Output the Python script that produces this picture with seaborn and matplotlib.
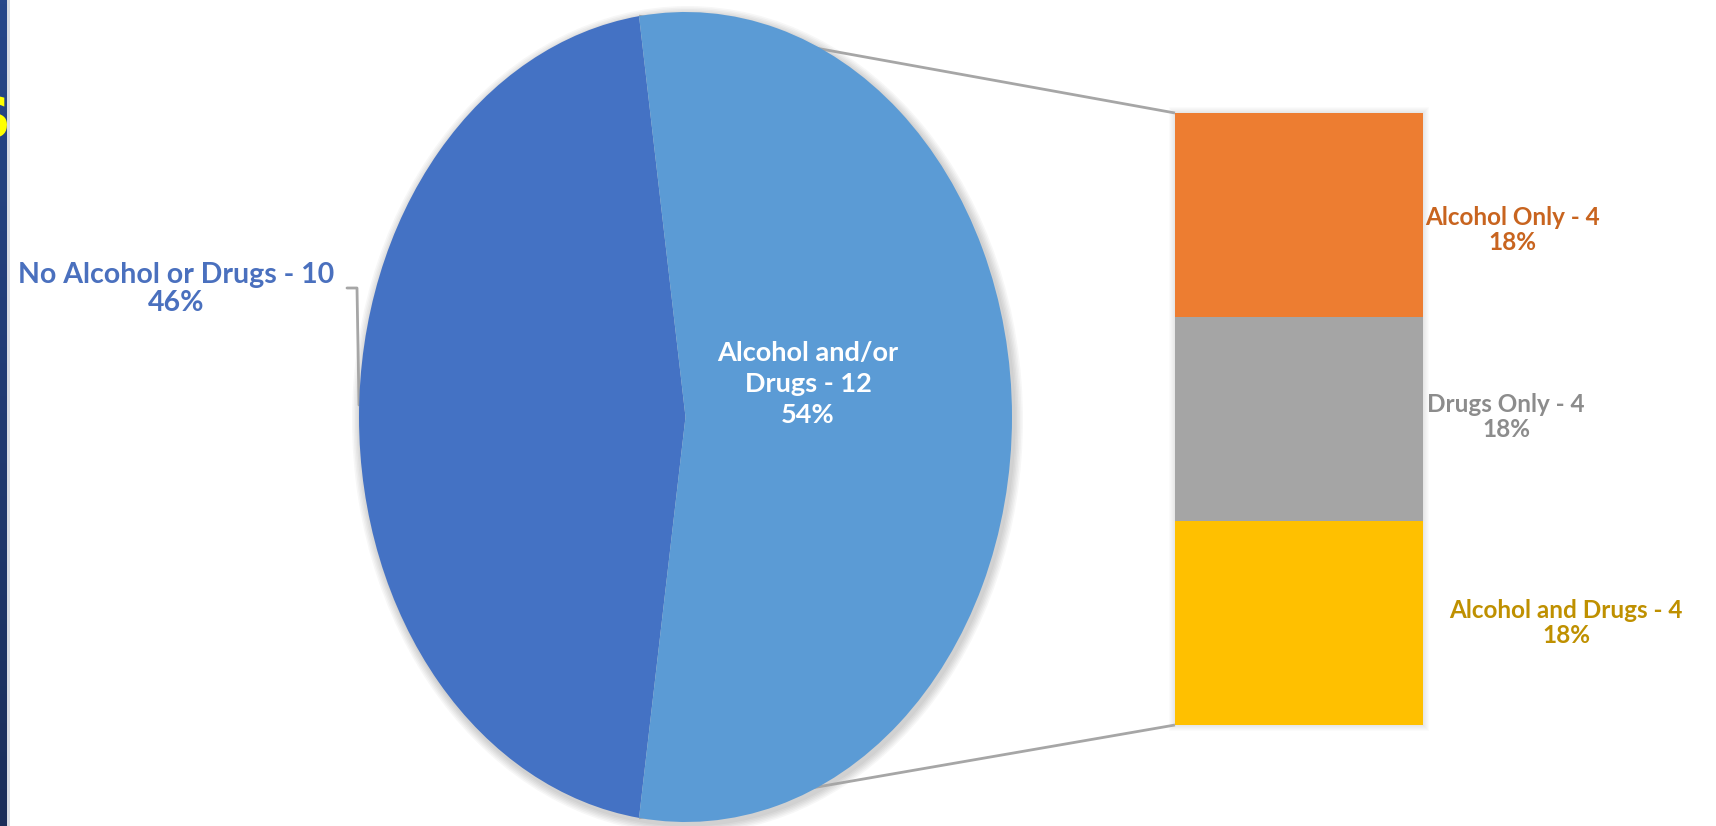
import numpy as np
import matplotlib
matplotlib.use("Agg")
import matplotlib.pyplot as plt
import seaborn as sns
from matplotlib.patches import Rectangle, Ellipse

# main pie: the "no" slice and the slice that is split into the bar
main_labels = ["No Alcohol or Drugs", "Alcohol and/or\nDrugs"]
main_counts = [10, 12]
main_pcts = ["46%", "54%"]

# secondary stacked bar, listed top to bottom
sub_labels = ["Alcohol Only", "Drugs Only", "Alcohol and Drugs"]
sub_counts = [4, 4, 4]
sub_pcts = ["18%", "18%", "18%"]

pie_colors = ["#4472C4", "#5B9BD5"]
bar_colors = ["#ED7D31", "#A5A5A5", "#FFC000"]
sub_text_colors = ["#C8641F", "#8C8C8C", "#BF9000"]

sns.set_theme(style="white")
plt.rcParams["font.family"] = ["Lato", "DejaVu Sans"]

W, H = 1716, 826
fig = plt.figure(figsize=(W / 100, H / 100), dpi=100)
fig.patch.set_facecolor("white")

# background canvas in pixel coordinates (strip + connector lines)
bg = fig.add_axes([0, 0, 1, 1])
bg.axis("off")

grad = np.linspace(0, 1, 200).reshape(-1, 1)
bg.imshow(grad, extent=(0, 7, H, 0), aspect="auto",
          cmap=matplotlib.colors.LinearSegmentedColormap.from_list("nv", ["#27478A", "#1B2E5A"]))
bg.add_patch(Rectangle((7, 0), 2.5, H, color="#D9DCE3", lw=0))
strip = Rectangle((0, 0), 7, H, transform=bg.transData, fill=False, lw=0)
bg.add_patch(strip)
s_txt = bg.text(11, 121, "S", color="#FFFF00", fontsize=40, fontweight="bold",
                ha="right", va="center", family="DejaVu Sans")
s_txt.set_clip_path(strip)
bg.set_xlim(0, W)
bg.set_ylim(H, 0)

# pie geometry (pixels)
px0, px1, py0, py1 = 359, 1012, 12, 822
bx0, bx1, by0, by1 = 1175, 1423, 113, 725
cx, cy = (px0 + px1) / 2, (py0 + py1) / 2
rx, ry = (px1 - px0) / 2, (py1 - py0) / 2

start = 180 - 180 * main_counts[0] / sum(main_counts)
edge = np.deg2rad(start)
ex, ey_top, ey_bot = cx + rx * np.cos(edge), cy - ry * np.sin(edge), cy + ry * np.sin(edge)
bg.plot([ex, bx0], [ey_top, by0], color="#A6A6A6", lw=2, solid_capstyle="butt")
bg.plot([ex, bx0], [ey_bot, by1], color="#A6A6A6", lw=2, solid_capstyle="butt")

# soft shadows
for k in range(6):
    bg.add_patch(Ellipse((cx + 2, cy + 3), 2 * rx + 3 + 3 * k, 2 * ry + 3 + 3 * k,
                         color="#000000", alpha=0.03, lw=0))
    bg.add_patch(Rectangle((bx0 - 1 - k, by0 - 1 - k), bx1 - bx0 + 2 + 2 * k,
                           by1 - by0 + 2 + 2 * k, color="#000000", alpha=0.015, lw=0))

# leader for the left label
bg.plot([347, 357, 359], [288, 288, 405], color="#A6A6A6", lw=2)

# pie
ax_pie = fig.add_axes([px0 / W, 1 - py1 / H, (px1 - px0) / W, (py1 - py0) / H])
ax_pie.pie(main_counts, colors=pie_colors, startangle=start, radius=1,
           wedgeprops=dict(linewidth=0))
ax_pie.set_aspect("auto")
ax_pie.set_xlim(-1, 1)
ax_pie.set_ylim(-1, 1)
ax_pie.axis("off")

# stacked bar
ax_bar = fig.add_axes([bx0 / W, 1 - by1 / H, (bx1 - bx0) / W, (by1 - by0) / H])
bottom = 0
for cnt, col in zip(sub_counts[::-1], bar_colors[::-1]):
    ax_bar.bar(0, cnt, bottom=bottom, width=1, color=col, linewidth=0)
    bottom += cnt
ax_bar.set_xlim(-0.5, 0.5)
ax_bar.set_ylim(0, sum(sub_counts))
ax_bar.axis("off")

# labels on top
top = fig.add_axes([0, 0, 1, 1])
top.set_xlim(0, W)
top.set_ylim(H, 0)
top.axis("off")
top.patch.set_alpha(0)

top.text(176, 289, f"{main_labels[0]} - {main_counts[0]}\n{main_pcts[0]}",
         color="#4A70BE", fontsize=20.5, fontweight="bold", ha="center", va="center",
         linespacing=1.05)
top.text(808, 384, f"{main_labels[1]} - {main_counts[1]}\n{main_pcts[1]}",
         color="white", fontsize=19.5, fontweight="bold", ha="center", va="center",
         linespacing=1.35)

sub_pos = [(1512, 230), (1506, 417), (1566, 623)]
for (x, y), lab, cnt, pct, col in zip(sub_pos, sub_labels, sub_counts, sub_pcts, sub_text_colors):
    top.text(x, y, f"{lab} - {cnt}\n{pct}", color=col, fontsize=17.5,
             fontweight="bold", ha="center", va="center", linespacing=1.15)

fig.savefig("out.png", dpi=100)
